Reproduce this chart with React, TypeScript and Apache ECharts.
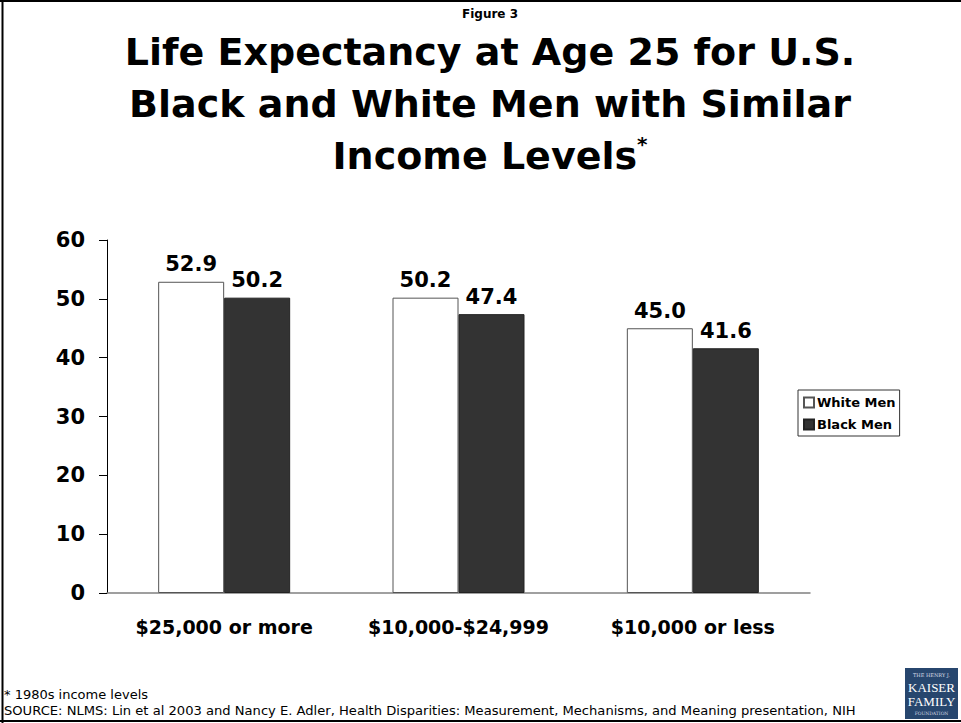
import React, { useEffect, useRef } from "react";
import * as echarts from "echarts";

const categories = ["$25,000 or more", "$10,000-$24,999", "$10,000 or less"];
const whiteMen = [52.9, 50.2, 45.0];
const blackMen = [50.2, 47.4, 41.6];
const seriesNames = ["White Men", "Black Men"];
const yMin = 0;
const yMax = 60;
const yInterval = 10;

const FONT = "'DejaVu Sans', Verdana, sans-serif";

export default function App() {
  const ref = useRef<HTMLDivElement>(null);
  useEffect(() => {
    if (!ref.current) return;
    const chart = echarts.init(ref.current, undefined, { renderer: "svg" });
    const labelStyle = {
      show: true,
      position: "top" as const,
      distance: 7,
      fontFamily: FONT,
      fontWeight: "bold" as const,
      fontSize: 21,
      color: "#000",
      formatter: (p: any) => Number(p.value).toFixed(1),
    };
    chart.setOption({
      animation: false,
      backgroundColor: "#fff",
      textStyle: { fontFamily: FONT },
      grid: { left: 107, right: 151, top: 240, bottom: 130 },
      legend: {
        orient: "vertical",
        left: 798,
        top: 390,
        data: seriesNames,
        icon: "rect",
        itemWidth: 10,
        itemHeight: 10,
        itemGap: 9,
        padding: [6, 4, 5, 5],
        borderColor: "#333",
        borderWidth: 1,
        textStyle: { fontFamily: FONT, fontWeight: "bold", fontSize: 13, color: "#000", padding: [0, 0, 0, -2] },
      },
      xAxis: {
        type: "category",
        data: categories,
        axisLine: { show: true, lineStyle: { color: "#808080", width: 1.5 } },
        axisTick: { show: false },
        axisLabel: {
          interval: 0,
          hideOverlap: false,
          margin: 24,
          fontFamily: FONT,
          fontWeight: "bold",
          fontSize: 19,
          color: "#000",
        },
      },
      yAxis: {
        type: "value",
        min: yMin,
        max: yMax,
        interval: yInterval,
        splitLine: { show: false },
        axisLine: { show: true, lineStyle: { color: "#000", width: 1 } },
        axisTick: { show: true, inside: false, length: 8, lineStyle: { color: "#000" } },
        axisLabel: {
          margin: 22,
          fontFamily: FONT,
          fontWeight: "bold",
          fontSize: 21,
          color: "#000",
        },
      },
      series: [
        {
          name: seriesNames[0],
          type: "bar",
          data: whiteMen,
          barWidth: 66,
          barGap: "0%",
          itemStyle: { color: "#ffffff", borderColor: "#555", borderWidth: 1 },
          label: labelStyle,
        },
        {
          name: seriesNames[1],
          type: "bar",
          data: blackMen,
          barWidth: 66,
          barGap: "0%",
          itemStyle: { color: "#333333", borderColor: "#222", borderWidth: 1 },
          label: labelStyle,
        },
      ],
      graphic: [
        { type: "line", shape: { x1: 0, y1: 1, x2: 961, y2: 1 }, style: { stroke: "#000", lineWidth: 2 } },
        { type: "line", shape: { x1: 2.5, y1: 0, x2: 2.5, y2: 723 }, style: { stroke: "#000", lineWidth: 2 } },
        { type: "line", shape: { x1: 0, y1: 721, x2: 961, y2: 721 }, style: { stroke: "#000", lineWidth: 2 } },
        {
          type: "text",
          x: 490,
          y: 14,
          style: { text: "Figure 3", fontFamily: FONT, fontWeight: "bold", fontSize: 12, fill: "#000", align: "center", verticalAlign: "middle" },
        },
        {
          type: "text",
          x: 490,
          y: 52,
          style: { text: "Life Expectancy at Age 25 for U.S.", fontFamily: FONT, fontWeight: "bold", fontSize: 38, fill: "#000", align: "center", verticalAlign: "middle" },
        },
        {
          type: "text",
          x: 490,
          y: 104,
          style: { text: "Black and White Men with Similar", fontFamily: FONT, fontWeight: "bold", fontSize: 38, fill: "#000", align: "center", verticalAlign: "middle" },
        },
        {
          type: "text",
          x: 490,
          y: 156,
          style: {
            text: "{a|Income Levels}{b|*}",
            align: "center",
            verticalAlign: "middle",
            rich: {
              a: { fontFamily: FONT, fontWeight: "bold", fontSize: 38, fill: "#000", color: "#000", lineHeight: 44, verticalAlign: "middle" },
              b: { fontFamily: FONT, fontWeight: "bold", fontSize: 20, fill: "#000", color: "#000", lineHeight: 44, verticalAlign: "top" },
            },
          },
        },
        {
          type: "text",
          x: 4,
          y: 694,
          style: { text: "* 1980s income levels", fontFamily: FONT, fontSize: 13, fill: "#000", align: "left", verticalAlign: "middle" },
        },
        {
          type: "text",
          x: 4,
          y: 710,
          style: {
            text: "SOURCE: NLMS: Lin et al 2003 and Nancy E. Adler, Health Disparities: Measurement, Mechanisms, and Meaning presentation, NIH",
            fontFamily: FONT,
            fontSize: 13.1,
            fill: "#000",
            align: "left",
            verticalAlign: "middle",
          },
        },
        {
          type: "group",
          left: 905,
          top: 668,
          children: [
            { type: "rect", shape: { x: 0, y: 0, width: 53, height: 51 }, style: { fill: "#27466e" } },
            { type: "text", x: 26.5, y: 7, style: { text: "THE HENRY J.", fontFamily: "'DejaVu Serif', serif", fontSize: 5, fill: "#d8dde6", align: "center", verticalAlign: "middle" } },
            { type: "text", x: 26.5, y: 19, style: { text: "KAISER", fontFamily: "'Liberation Serif', serif", fontSize: 13, fill: "#fff", align: "center", verticalAlign: "middle" } },
            { type: "text", x: 26.5, y: 33, style: { text: "FAMILY", fontFamily: "'Liberation Serif', serif", fontSize: 13, fill: "#fff", align: "center", verticalAlign: "middle" } },
            { type: "text", x: 26.5, y: 45, style: { text: "FOUNDATION", fontFamily: "'DejaVu Serif', serif", fontSize: 4.5, fill: "#d8dde6", align: "center", verticalAlign: "middle" } },
          ],
        },
      ],
    });
    return () => chart.dispose();
  }, []);
  return <div ref={ref} style={{ position: "fixed", left: 0, top: 0, width: 961, height: 723 }} />;
}
